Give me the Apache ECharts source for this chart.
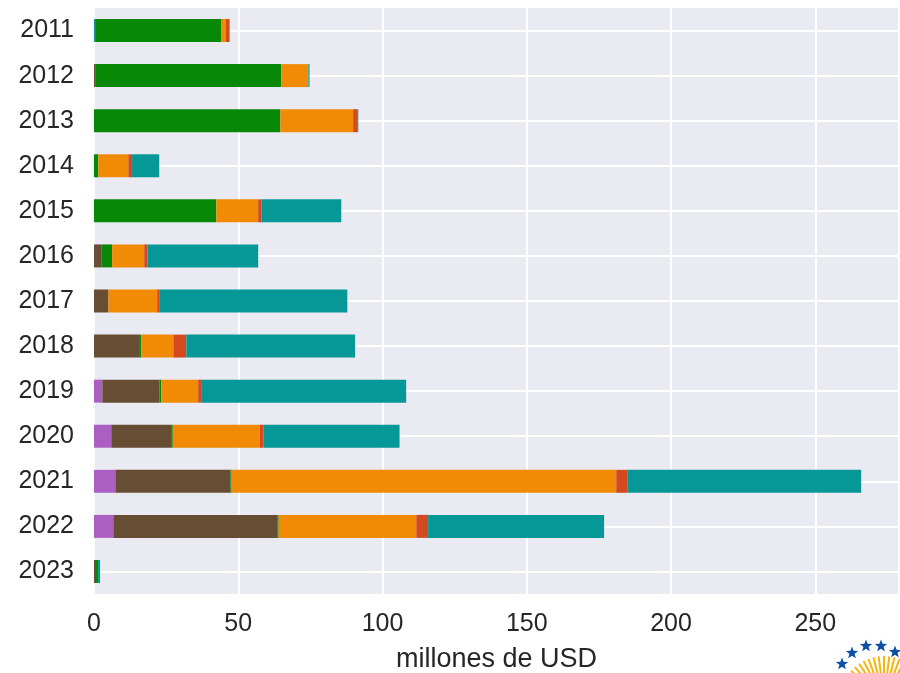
<!DOCTYPE html>
<html>
<head>
<meta charset="utf-8">
<script src="https://cdn.jsdelivr.net/npm/echarts@6/dist/echarts.min.js"></script>
<style>html,body{margin:0;padding:0;background:#fff}#c{width:900px;height:673px}</style>
</head>
<body>
<div id="c"></div>
<script>
const years = ['2011','2012','2013','2014','2015','2016','2017','2018','2019','2020','2021','2022','2023'];
const otros   = [0.4, 0, 0, 0, 0, 0, 0, 0, 0, 0, 0, 0, 0];
const purpura = [0, 0, 0, 0, 0, 0, 0, 0, 2.9, 6.0, 7.4, 6.7, 0];
const marron  = [0, 0.4, 0, 0, 0, 2.5, 5.0, 15.9, 19.8, 21.0, 39.9, 57.0, 0.7];
const verde   = [43.8, 64.5, 64.6, 1.5, 42.4, 3.8, 0, 0.5, 0.6, 0.3, 0.4, 0.3, 0.7];
const naranja = [1.4, 9.4, 25.2, 10.4, 14.5, 11.1, 16.9, 11.1, 12.8, 30.1, 133.3, 47.7, 0];
const rojo    = [1.4, 0, 1.4, 1.3, 1.1, 1.1, 0.7, 4.5, 1.3, 1.4, 3.8, 4.1, 0];
const turquesa= [0, 0.4, 0.4, 9.4, 27.7, 38.4, 65.2, 58.5, 70.8, 47.1, 81.1, 61.0, 0.7];
const xTicks = [0, 50, 100, 150, 200, 250];

const seriesDefs = [
  ['otros', otros, '#1a8c9c'],
  ['purpura', purpura, '#ab5fc1'],
  ['marron', marron, '#664d33'],
  ['verde', verde, '#078907'],
  ['naranja', naranja, '#f18a05'],
  ['rojo', rojo, '#d34a20'],
  ['turquesa', turquesa, '#059897']
];

const chart = echarts.init(document.getElementById('c'), null, {renderer: 'canvas'});
const font = 'Liberation Sans, Arial, sans-serif';

function star(cx, cy, r) {
  const pts = [];
  for (let i = 0; i < 10; i++) {
    const a = -Math.PI / 2 + i * Math.PI / 5;
    const rr = i % 2 === 0 ? r : r * 0.42;
    pts.push([cx + rr * Math.cos(a), cy + rr * Math.sin(a)]);
  }
  return {type: 'polygon', shape: {points: pts}, style: {fill: '#0d4ea6'}, z: 100};
}
const rays = [];
for (let i = 0; i <= 26; i++) {
  const a = Math.PI + i * Math.PI / 26;
  rays.push({type: 'line', shape: {x1: 884 + 8 * Math.cos(a), y1: 700 + 8 * Math.sin(a), x2: 884 + 44 * Math.cos(a), y2: 700 + 44 * Math.sin(a)}, style: {stroke: '#f5b50a', lineWidth: 2}, z: 100});
}

chart.setOption({
  backgroundColor: '#ffffff',
  animation: false,
  grid: {left: 94, right: 1, top: 8, bottom: 79, containLabel: false, outerBoundsMode: 'none',
    show: true, backgroundColor: '#eaeaf2', borderWidth: 0},
  xAxis: {
    type: 'value', min: 0, max: 279, interval: 50,
    axisLine: {show: false}, axisTick: {show: false},
    splitLine: {show: true, lineStyle: {color: '#ffffff', width: 2}},
    axisLabel: {color: '#262626', fontSize: 25, fontFamily: font, margin: 18,
      formatter: v => xTicks.indexOf(v) >= 0 ? String(v) : ''},
    name: 'millones de USD', nameLocation: 'middle', nameGap: 52,
    nameTextStyle: {color: '#262626', fontSize: 27, fontFamily: font}
  },
  yAxis: {
    type: 'category', data: years, inverse: true,
    axisLine: {show: false}, axisTick: {show: false},
    splitLine: {show: true, alignWithLabel: true, lineStyle: {color: '#ffffff', width: 2}},
    axisLabel: {color: '#262626', fontSize: 25, fontFamily: font, margin: 20}
  },
  series: seriesDefs.map(([name, data, color]) => ({
    name, type: 'bar', stack: 'total', data, barWidth: '51%',
    itemStyle: {color}, emphasis: {disabled: true}
  })),
  graphic: [
    ...rays,
    star(842, 664, 6.5), star(852, 653, 6.5), star(866, 646, 6.5), star(881, 646, 6.5), star(895, 652, 6.5)
  ]
});
</script>
</body>
</html>
